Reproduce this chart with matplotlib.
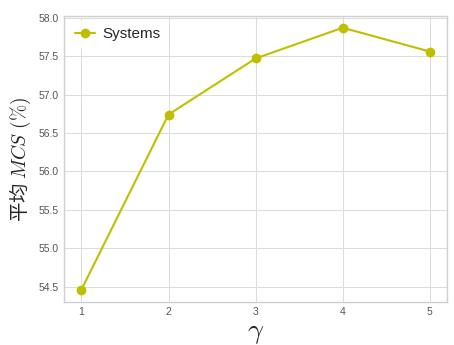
import matplotlib
matplotlib.use("Agg")
import matplotlib.pyplot as plt

gamma = [1, 2, 3, 4, 5]
mcs = [54.46, 56.74, 57.47, 57.87, 57.56]

plt.style.use("seaborn-v0_8-whitegrid")
plt.rcParams['font.family'] = ['Liberation Sans', 'Noto Sans CJK SC']
plt.rcParams['mathtext.fontset'] = 'cm'

fig, ax = plt.subplots(figsize=(4.54, 3.45), dpi=100)
ax.plot(gamma, mcs, color='y', marker='o', markersize=6, linewidth=1.5, label="Systems")
ax.set_ylim(54.3, 58.02)
ax.set_xticks(gamma)
ax.tick_params(labelsize=7.5, colors='#555555')
ax.grid(color='#dddddd')
for s in ax.spines.values():
    s.set_visible(True)
    s.set_color('#d0d0d0')
ax.set_xlabel(r"$\gamma$", fontsize=20, labelpad=2)
ax.set_ylabel(r"平均 $MCS\ (\%)$", fontsize=14, family='Noto Sans CJK SC')
ax.legend(loc='upper left', fontsize=11, frameon=True, framealpha=1,
          edgecolor='white', borderaxespad=0.3, handlelength=1.3,
          handletextpad=0.5)
fig.subplots_adjust(left=0.141, right=0.985, top=0.953, bottom=0.125)
fig.savefig("out.png")
